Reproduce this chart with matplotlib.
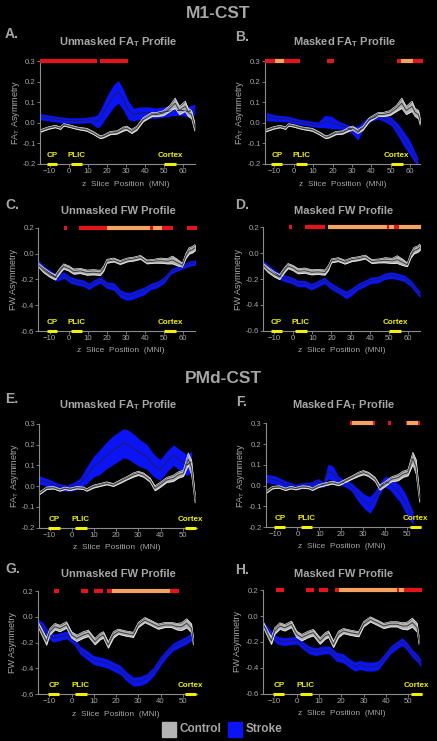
import matplotlib
matplotlib.use('Agg')
import matplotlib.pyplot as plt
from matplotlib.ticker import FormatStrFormatter
import numpy as np

W, H = 437, 741

plt.rcParams['font.family'] = ['Liberation Sans', 'DejaVu Sans']
plt.rcParams['mathtext.fontset'] = 'custom'
plt.rcParams['mathtext.rm'] = 'Liberation Sans'
plt.rcParams['mathtext.bf'] = 'Liberation Sans:bold'
plt.rcParams['mathtext.it'] = 'Liberation Sans:italic'

TXT = '#a6a6a6'
AXC = '#8c8c8c'
BLUE = '#0a14f5'
BLUE_LINE = '#1c1c55'
GRAY = '#b4b4b4'
GRAY_EDGE = '#eeeeee'
GRAY_LINE = '#3a3a3a'
SIG_COLORS = {1: '#e4141c', 2: '#f4a460'}
YELLOW = '#f0f000'

# ---------------- data ----------------
# M1-CST, FA_T asymmetry (control curve is shared by A and B)
m1_fa_ctrl_x = [-15, -10.4, -7, -4.3, -2.6, 0, 4.3, 9.6, 13, 16.5, 18.3, 21.7, 25.2, 28.7,
                30.4, 33, 35.7, 39, 43.5, 46, 49.6, 53, 55.7, 58, 61, 62.6, 64.3, 66]
m1_fa_ctrl = [-0.04, -0.025, -0.018, -0.026, -0.01, -0.015, -0.026, -0.034, -0.05, -0.07, -0.066,
              -0.05, -0.047, -0.03, -0.026, -0.042, -0.026, 0.015, 0.04, 0.04, 0.047, 0.07, 0.095,
              0.06, 0.08, 0.05, 0.04, -0.02]
m1_fa_ctrl_err = [0.006, 0.006, 0.006, 0.006, 0.006, 0.006, 0.006, 0.007, 0.007, 0.007, 0.007,
                  0.008, 0.008, 0.01, 0.01, 0.01, 0.01, 0.01, 0.01, 0.01, 0.012, 0.015, 0.025,
                  0.02, 0.025, 0.02, 0.02, 0.02]

m1_fa_stroke_a_x = [-15, -9.6, -4.3, 0, 6, 11.3, 14.8, 16.5, 20, 23.5, 26, 28.7, 31.3, 34, 37.4,
                    40.9, 46, 51.3, 54.8, 59, 62.6, 66]
m1_fa_stroke_a = [0.03, 0.022, 0.015, 0.011, 0.011, 0.015, 0.006, 0.022, 0.08, 0.13, 0.15, 0.11,
                  0.06, 0.04, 0.047, 0.05, 0.047, 0.055, 0.06, 0.06, 0.055, 0.065]
m1_fa_stroke_a_err = [0.015, 0.014, 0.014, 0.013, 0.013, 0.014, 0.03, 0.04, 0.05, 0.055, 0.055,
                      0.05, 0.045, 0.03, 0.03, 0.028, 0.025, 0.025, 0.025, 0.025, 0.025, 0.025]

m1_fa_stroke_b_x = [-14.1, -8.9, -2.9, 2.2, 7.4, 12.5, 16.0, 19.4, 22.8, 26.3, 29.7, 33.1, 36.6,
                    40.0, 43.5, 46.9, 50.3, 53.8, 57.2, 59.8, 61.5, 64]
m1_fa_stroke_b = [0.03, 0.022, 0.018, 0.006, -0.002, -0.01, 0.006, 0.002, -0.01, -0.018, -0.034,
                  -0.05, 0.0, 0.02, 0.03, 0.02, 0.006, -0.034, -0.085, -0.12, -0.15, -0.19]
m1_fa_stroke_b_err = [0.02, 0.015, 0.014, 0.013, 0.013, 0.013, 0.03, 0.03, 0.02, 0.015, 0.015,
                      0.035, 0.015, 0.012, 0.012, 0.015, 0.02, 0.03, 0.035, 0.035, 0.03, 0.02]

# M1-CST, FW asymmetry (control shared by C and D)
m1_fw_ctrl_x = [-15.75, -13, -9.6, -7, -4.4, -2.6, 0, 2.6, 6.1, 9.6, 13, 16.6, 18.4, 20, 23.6, 27,
                30.6, 34, 37.6, 41, 44.6, 48, 51.6, 54.3, 56.9, 59.5, 61.3, 63, 64.8, 66.5]
m1_fw_ctrl = [-0.09, -0.13, -0.166, -0.185, -0.13, -0.1, -0.115, -0.14, -0.135, -0.148, -0.145,
              -0.15, -0.115, -0.06, -0.05, -0.07, -0.05, -0.043, -0.03, -0.065, -0.06, -0.055,
              -0.06, -0.05, -0.07, -0.09, -0.02, 0.02, 0.03, 0.05]
m1_fw_ctrl_err = [0.015, 0.02, 0.02, 0.02, 0.02, 0.02, 0.02, 0.02, 0.02, 0.02, 0.02, 0.02, 0.02,
                  0.015, 0.015, 0.015, 0.015, 0.015, 0.015, 0.015, 0.015, 0.02, 0.02, 0.03, 0.025,
                  0.015, 0.02, 0.025, 0.025, 0.025]

m1_fw_stroke_c_x = [-15.75, -13, -9.6, -6.1, -2.6, 0.9, 4.4, 7.9, 10.5, 13, 16.6, 20, 23.6, 27,
                    29.8, 32.4, 35.9, 39.4, 42.9, 46.4, 49.9, 53.4, 56.9, 60.4, 63.9, 66.5]
m1_fw_stroke_c = [-0.07, -0.115, -0.155, -0.19, -0.166, -0.205, -0.22, -0.23, -0.255, -0.23,
                  -0.205, -0.245, -0.255, -0.31, -0.33, -0.33, -0.31, -0.29, -0.255, -0.24,
                  -0.205, -0.14, -0.115, -0.095, -0.075, -0.07]
m1_fw_stroke_c_err = [0.02, 0.02, 0.025, 0.025, 0.025, 0.025, 0.025, 0.025, 0.025, 0.025, 0.025,
                      0.025, 0.03, 0.03, 0.03, 0.03, 0.03, 0.03, 0.025, 0.025, 0.025, 0.02, 0.02,
                      0.02, 0.02, 0.02]

m1_fw_stroke_d_x = [-15.2, -11.2, -6.9, -4.3, -0.8, 2.6, 6.1, 9.5, 13, 16.4, 19, 21.6, 25.1, 27.7,
                    30.3, 33.7, 37.2, 40.6, 44.1, 47.5, 51, 54.5, 57.9, 61.4, 64.9, 66.1]
m1_fw_stroke_d = [-0.08, -0.13, -0.18, -0.195, -0.21, -0.235, -0.235, -0.26, -0.235, -0.21,
                  -0.246, -0.27, -0.3, -0.324, -0.3, -0.26, -0.235, -0.21, -0.205, -0.18, -0.17,
                  -0.18, -0.195, -0.235, -0.3, -0.32]
m1_fw_stroke_d_err = [0.02, 0.02, 0.025, 0.025, 0.025, 0.025, 0.025, 0.025, 0.025, 0.025, 0.025,
                      0.025, 0.025, 0.03, 0.03, 0.025, 0.025, 0.025, 0.025, 0.025, 0.025, 0.025,
                      0.025, 0.025, 0.025, 0.025]

# PMd-CST, FA_T asymmetry (control shared by E and F)
pmd_fa_ctrl_x = [-14.6, -11.3, -8.3, -5.3, -3, -0.75, 2.3, 5.3, 6.8, 9.8, 12.8, 15.8, 18.8, 21.8,
                 24.8, 27.8, 30, 32.3, 35.3, 37.5, 39.8, 42.8, 45.8, 48, 50.3, 52.5, 54, 55.6]
pmd_fa_ctrl = [-0.035, -0.01, -0.007, -0.018, -0.01, -0.015, -0.007, -0.01, -0.018, -0.002, 0.006,
               0.014, 0.006, 0.022, 0.038, 0.054, 0.062, 0.054, 0.03, -0.01, 0.006, 0.03, 0.038,
               0.054, 0.062, 0.13, 0.09, -0.06]
pmd_fa_ctrl_err = [0.006, 0.006, 0.006, 0.006, 0.006, 0.006, 0.006, 0.006, 0.006, 0.007, 0.007,
                   0.007, 0.007, 0.008, 0.008, 0.01, 0.01, 0.01, 0.01, 0.012, 0.012, 0.012, 0.015,
                   0.015, 0.015, 0.03, 0.035, 0.02]

pmd_fa_stroke_e_x = [-14.6, -9.8, -6, -2.3, 0.75, 3.75, 6.8, 9.8, 12.8, 15.8, 18.8, 21, 23.3, 25.5,
                     27.8, 30.8, 33.8, 36.8, 39.8, 42.8, 45.8, 48.8, 51.8, 54]
pmd_fa_stroke_e = [0.03, 0.014, -0.002, -0.01, -0.002, 0.014, 0.054, 0.094, 0.118, 0.15, 0.175,
                   0.19, 0.207, 0.2, 0.183, 0.159, 0.142, 0.102, 0.078, 0.118, 0.15, 0.126, 0.102,
                   0.118]
pmd_fa_stroke_e_err = [0.02, 0.018, 0.015, 0.015, 0.02, 0.025, 0.04, 0.05, 0.06, 0.065, 0.07, 0.07,
                       0.07, 0.07, 0.07, 0.065, 0.06, 0.055, 0.05, 0.05, 0.05, 0.05, 0.05, 0.05]

pmd_fa_stroke_f_x = [-14.4, -10.3, -5.8, -1.2, 3.3, 6.4, 9.4, 11.7, 13.9, 16.2, 18.5, 21.5, 24.5,
                     27.6, 30.6, 32.9, 35.2, 37.4, 39.7, 42, 44.2, 46.5, 48.8, 51, 52.6]
pmd_fa_stroke_f = [0.035, 0.027, 0.01, -0.005, 0.003, 0.006, 0.019, 0.003, 0.067, 0.059, 0.027,
                   0.01, -0.005, -0.046, -0.078, -0.094, -0.062, -0.014, 0.018, 0.01, -0.014,
                   -0.038, -0.078, -0.126, -0.158]
pmd_fa_stroke_f_err = [0.02, 0.02, 0.015, 0.012, 0.012, 0.012, 0.015, 0.015, 0.035, 0.035, 0.02,
                       0.015, 0.02, 0.03, 0.035, 0.04, 0.035, 0.025, 0.025, 0.03, 0.035, 0.04,
                       0.045, 0.04, 0.03]

# PMd-CST, FW asymmetry (control shared by G and H)
pmd_fw_ctrl_x = [-15, -12.8, -11.3, -9.8, -7.5, -5.3, -2.3, 0, 2.3, 5.3, 7.5, 10.5, 12.8, 14.3,
                 16.5, 18.8, 21, 24, 27.8, 30, 33, 36, 39, 42, 45, 47.3, 49.5, 51.8, 54, 54.8]
pmd_fw_ctrl = [-0.063, -0.14, -0.19, -0.115, -0.076, -0.09, -0.063, -0.14, -0.166, -0.14, -0.128,
               -0.192, -0.153, -0.14, -0.218, -0.14, -0.115, -0.128, -0.14, -0.063, -0.025, -0.05,
               -0.076, -0.063, -0.063, -0.076, -0.076, -0.05, -0.09, -0.187]
pmd_fw_ctrl_err = [0.02, 0.025, 0.03, 0.025, 0.025, 0.025, 0.025, 0.025, 0.025, 0.025, 0.025,
                   0.025, 0.025, 0.025, 0.025, 0.025, 0.02, 0.02, 0.02, 0.02, 0.02, 0.02, 0.02,
                   0.02, 0.02, 0.025, 0.03, 0.035, 0.035, 0.03]

pmd_fw_stroke_g_x = [-15, -12.8, -10.5, -8.3, -5.3, -2.3, 0.75, 3.75, 6.8, 9.8, 12.8, 15.8, 18.8,
                     21.8, 24.8, 27.8, 30.8, 33.8, 36.8, 39.8, 42.8, 45.8, 48.8, 51.8, 54]
pmd_fw_stroke_g = [-0.05, -0.076, -0.14, -0.166, -0.153, -0.14, -0.18, -0.257, -0.295, -0.334,
                   -0.347, -0.36, -0.386, -0.41, -0.463, -0.502, -0.497, -0.476, -0.425, -0.347,
                   -0.283, -0.231, -0.205, -0.18, -0.153]
pmd_fw_stroke_g_err = [0.03, 0.03, 0.03, 0.03, 0.03, 0.03, 0.03, 0.03, 0.035, 0.035, 0.035, 0.035,
                       0.035, 0.035, 0.035, 0.035, 0.035, 0.035, 0.035, 0.035, 0.03, 0.03, 0.03,
                       0.03, 0.03]

pmd_fw_stroke_h_x = [-15.6, -13.3, -11, -8.8, -5.8, -2.7, 0.3, 2.6, 5.6, 8.6, 11.7, 14.7, 17.7,
                     20.8, 23.8, 26.1, 28.3, 31.4, 34.4, 36.7, 39.7, 42, 45, 47.3, 49.5, 51.8,
                     54.1, 55.6]
pmd_fw_stroke_h = [-0.055, -0.107, -0.146, -0.185, -0.197, -0.192, -0.185, -0.223, -0.262, -0.275,
                   -0.262, -0.262, -0.313, -0.326, -0.365, -0.39, -0.378, -0.39, -0.39, -0.378,
                   -0.313, -0.262, -0.223, -0.197, -0.236, -0.288, -0.326, -0.365]
pmd_fw_stroke_h_err = [0.03, 0.03, 0.03, 0.03, 0.03, 0.03, 0.03, 0.03, 0.03, 0.03, 0.03, 0.03,
                       0.035, 0.035, 0.035, 0.035, 0.035, 0.035, 0.035, 0.035, 0.03, 0.03, 0.03,
                       0.03, 0.03, 0.03, 0.03, 0.03]

# significance segments (start, end, level) -- level 1 red, level 2 orange
sig_a = [(-15, 14.8, 1), (16.5, 31, 1)]
sig_b = [(-15, -9.4, 1), (-9.4, -5, 2), (-5, 3.1, 1), (17.3, 20.8, 1),
         (53, 55.5, 1), (55.5, 61.5, 2), (61.5, 66.7, 1)]
sig_c = [(-2.3, -0.9, 1), (5.6, 19.8, 1), (19.8, 42.5, 2), (42.5, 44.3, 1), (44.3, 48.7, 2),
         (48.7, 54.8, 1), (62.1, 67.4, 1)]
sig_d = [(-2, -0.7, 1), (6.1, 16.4, 1), (18.2, 48.9, 2), (48.9, 50.1, 1), (50.1, 52.7, 2),
         (52.7, 55.3, 1), (55.3, 66.6, 2)]
sig_e = []
sig_f = [(24.1, 25, 1), (25, 34.5, 2), (34.5, 35.5, 1), (41.2, 42.4, 1), (49.2, 50, 1),
         (50, 54.8, 2), (54.8, 55.6, 1)]
sig_g = [(-8, -5.6, 1), (4.2, 7.5, 1), (10, 14.3, 1), (16, 18, 1), (18, 44.3, 2), (44.3, 48.5, 1)]
sig_h = [(-9.1, -5.8, 1), (4.1, 7.6, 1), (10.2, 14.2, 1), (17, 18.8, 1), (18.8, 45, 2),
         (45, 45.8, 1), (45.8, 48, 2), (48, 56, 1)]

region_names = ['CP', 'PLIC', 'Cortex']
regions_m1 = [(-11.5, -6.0), (1.0, 7.0), (50.0, 56.2)]
regions_pmd = [(-10.5, -5.5), (1.5, 6.7), (51.0, 56.0)]

fa_yticks = [-0.2, -0.1, 0.0, 0.1, 0.2, 0.3]
fw_yticks = [-0.6, -0.4, -0.2, 0.0, 0.2]
m1_xticks = [-10, 0, 10, 20, 30, 40, 50, 60]
pmd_xticks = [-10, 0, 10, 20, 30, 40, 50]

fig = plt.figure(figsize=(W / 100, H / 100), dpi=100, facecolor='black')


def fx(x):
    return x / W


def fy(y):
    return 1 - y / H


def draw_band(ax, x, mean, err, fill, edge, line):
    x = np.array(x)
    mean = np.array(mean)
    err = np.array(err)
    ax.fill_between(x, mean - err, mean + err, color=fill, lw=0)
    if edge is not None:
        ax.plot(x, mean - err, color=edge, lw=0.5)
        ax.plot(x, mean + err, color=edge, lw=0.5)
    ax.plot(x, mean, color=line, lw=0.7)


def panel(box, xlim, ylim, yticks, xticks, ctrl, stroke, sig, regions, ylab, title,
          letter, letter_pos, title_pos, xlab_x):
    left, right, top, bottom = box
    ax = fig.add_axes([fx(left), fy(bottom), (right - left) / W, (bottom - top) / H])
    ax.set_facecolor('black')
    draw_band(ax, *stroke, BLUE, None, BLUE_LINE)
    draw_band(ax, *ctrl, GRAY, GRAY_EDGE, GRAY_LINE)
    ax.set_xlim(*xlim)
    ax.set_ylim(*ylim)
    ax.set_yticks(yticks)
    ax.set_xticks(xticks)
    ax.yaxis.set_major_formatter(FormatStrFormatter('%.1f'))
    for s in ['top', 'right']:
        ax.spines[s].set_visible(False)
    for s in ['left', 'bottom']:
        ax.spines[s].set_color(AXC)
        ax.spines[s].set_linewidth(0.8)
    ax.tick_params(colors=AXC, labelcolor=TXT, labelsize=5.6, length=2, width=0.6, pad=1)

    # significance bars along the top
    for s, e, lvl in sig:
        ax.plot([s, e], [ylim[1], ylim[1]], color=SIG_COLORS[lvl], lw=3,
                solid_capstyle='butt', clip_on=False, zorder=5)
    # anatomical landmarks along the bottom
    for name, (s, e) in zip(region_names, regions):
        ax.plot([s, e], [ylim[0], ylim[0]], color=YELLOW, lw=2.2,
                solid_capstyle='butt', clip_on=False, zorder=6)
        ax.annotate(name, ((s + e) / 2, ylim[0]), xytext=(0, 6), textcoords='offset points',
                    ha='center', va='center', color=YELLOW, fontsize=5.8, fontweight='bold',
                    annotation_clip=False)

    fig.text(fx(left - 25), fy((top + bottom) / 2), ylab, rotation=90, ha='center',
             va='center', color=TXT, fontsize=6.5)
    fig.text(fx(xlab_x), fy(bottom + 20), 'z  Slice  Position  (MNI)', ha='center',
             va='center', color=TXT, fontsize=6)
    fig.text(fx(title_pos[0]), fy(title_pos[1]), title, ha='center', va='center',
             color=TXT, fontsize=8, fontweight='bold')
    fig.text(fx(letter_pos[0]), fy(letter_pos[1]), letter, ha='left', va='center',
             color=TXT, fontsize=10, fontweight='bold')
    return ax


fa_lab = r'FA$_\mathrm{T}$ Asymmetry'
fw_lab = 'FW Asymmetry'
t_unfa = r'Unmasked FA$_\mathbf{T}$ Profile'
t_mfa = r'Masked FA$_\mathbf{T}$ Profile'
t_unfw = 'Unmasked FW Profile'
t_mfw = 'Masked FW Profile'

m1_fa_c = (m1_fa_ctrl_x, m1_fa_ctrl, m1_fa_ctrl_err)
m1_fw_c = (m1_fw_ctrl_x, m1_fw_ctrl, m1_fw_ctrl_err)
pmd_fa_c = (pmd_fa_ctrl_x, pmd_fa_ctrl, pmd_fa_ctrl_err)
pmd_fw_c = (pmd_fw_ctrl_x, pmd_fw_ctrl, pmd_fw_ctrl_err)

panel((40, 195, 61, 164), (-15, 66.1), (-0.2, 0.3), fa_yticks, m1_xticks, m1_fa_c,
      (m1_fa_stroke_a_x, m1_fa_stroke_a, m1_fa_stroke_a_err), sig_a, regions_m1,
      fa_lab, t_unfa, 'A.', (5, 34), (118, 42), 126)
panel((265, 420, 61, 164), (-14.8, 65.1), (-0.2, 0.3), fa_yticks, m1_xticks, m1_fa_c,
      (m1_fa_stroke_b_x, m1_fa_stroke_b, m1_fa_stroke_b_err), sig_b, regions_m1,
      fa_lab, t_mfa, 'B.', (234.7, 37), (344.7, 42), 342.7)
panel((38.3, 195, 227.7, 331), (-15.9, 66.1), (-0.6, 0.2), fw_yticks, m1_xticks, m1_fw_c,
      (m1_fw_stroke_c_x, m1_fw_stroke_c, m1_fw_stroke_c_err), sig_c, regions_m1,
      fw_lab, t_unfw, 'C.', (5, 205), (118, 210.7), 121)
panel((263.3, 420, 227.3, 330.7), (-15.5, 66.1), (-0.6, 0.2), fw_yticks, m1_xticks, m1_fw_c,
      (m1_fw_stroke_d_x, m1_fw_stroke_d, m1_fw_stroke_d_err), sig_d, regions_m1,
      fw_lab, t_mfw, 'D.', (234.7, 205), (344, 210.7), 342)
panel((39.3, 196.7, 424, 527.7), (-14.6, 56.3), (-0.2, 0.3), fa_yticks, pmd_xticks, pmd_fa_c,
      (pmd_fa_stroke_e_x, pmd_fa_stroke_e, pmd_fa_stroke_e_err), sig_e, regions_pmd,
      fa_lab, t_unfa, 'E.', (5, 399), (118.7, 405), 116.3)
panel((265.7, 421, 423.3, 527), (-14.4, 56.2), (-0.2, 0.3), fa_yticks, pmd_xticks, pmd_fa_c,
      (pmd_fa_stroke_f_x, pmd_fa_stroke_f, pmd_fa_stroke_f_err), sig_f, regions_pmd,
      fa_lab, t_mfa, 'F.', (236.3, 401.7), (344, 405), 342)
panel((37.7, 196.7, 591, 694.3), (-15.3, 56.3), (-0.6, 0.2), fw_yticks, pmd_xticks, pmd_fw_c,
      (pmd_fw_stroke_g_x, pmd_fw_stroke_g, pmd_fw_stroke_g_err), sig_g, regions_pmd,
      fw_lab, t_unfw, 'G.', (5, 568.8), (118.3, 573.7), 116)
panel((262.7, 421.7, 590.3, 693.7), (-15.2, 56), (-0.6, 0.2), fw_yticks, pmd_xticks, pmd_fw_c,
      (pmd_fw_stroke_h_x, pmd_fw_stroke_h, pmd_fw_stroke_h_err), sig_h, regions_pmd,
      fw_lab, t_mfw, 'H.', (234.7, 569.7), (344, 573.7), 342)

fig.text(fx(218), fy(13.5), 'M1-CST', ha='center', va='center', color=TXT,
         fontsize=12.5, fontweight='bold')
fig.text(fx(223), fy(378.7), 'PMd-CST', ha='center', va='center', color=TXT,
         fontsize=12.5, fontweight='bold')

# legend
fig.patches.append(plt.Rectangle((fx(161.7), fy(736.7)), 14 / W, 14.7 / H, color=GRAY,
                                 transform=fig.transFigure, figure=fig))
fig.patches.append(plt.Rectangle((fx(228), fy(736.7)), 14 / W, 14.7 / H, color=BLUE,
                                 transform=fig.transFigure, figure=fig))
fig.text(fx(180), fy(729.5), 'Control', ha='left', va='center', color=TXT, fontsize=8.5,
         fontweight='bold')
fig.text(fx(246), fy(729.5), 'Stroke', ha='left', va='center', color=TXT, fontsize=8.5,
         fontweight='bold')

fig.savefig('out.png', dpi=100, facecolor='black')
